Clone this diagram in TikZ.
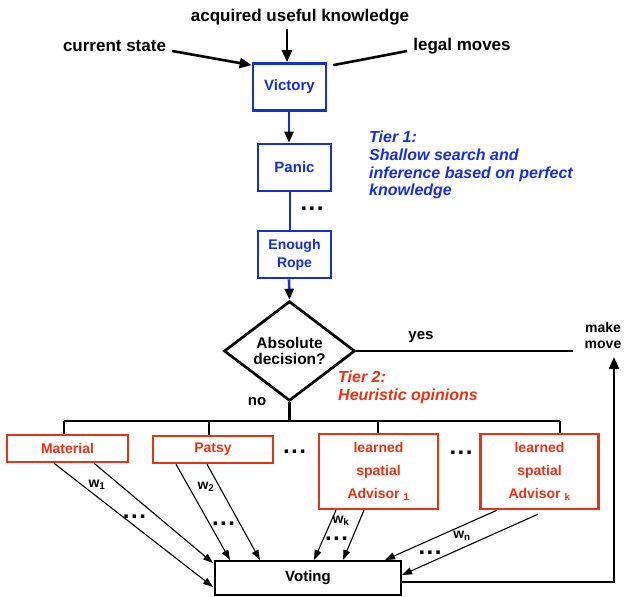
\documentclass[tikz,border=0pt]{standalone}
\usepackage{fontspec}
\setmainfont{Liberation Sans}
\usetikzlibrary{arrows.meta,shapes.geometric}
\definecolor{tblue}{RGB}{25,45,215}
\definecolor{tred}{RGB}{232,50,20}
\begin{document}
\begin{tikzpicture}[x=1pt,y=-1pt,
  lab/.style={inner sep=0pt, font=\fontsize{17}{19}\selectfont\bfseries},
  smalllab/.style={inner sep=0pt, font=\fontsize{15}{16}\selectfont\bfseries, align=center},
  bluebox/.style={draw=tblue, line width=2.7pt, text=tblue, minimum width=73pt, minimum height=47pt, inner sep=0pt, font=\fontsize{15}{18}\selectfont\bfseries, align=center},
  redbox/.style={draw=tred, line width=2.4pt, text=tred, inner sep=0pt, font=\fontsize{14}{23}\selectfont\bfseries, align=center},
  tierblue/.style={inner sep=0pt, text=tblue, font=\fontsize{16}{17.7}\selectfont\bfseries\itshape, align=left, anchor=north west},
  tierred/.style={inner sep=0pt, text=tred, font=\fontsize{16}{17.7}\selectfont\bfseries\itshape, align=left, anchor=north west},
  bigarrow/.style={line width=2.6pt, -{Triangle[length=12pt,width=10pt]}},
  bluearrow/.style={draw=tblue, line width=2.6pt, -{Triangle[length=11pt,width=9pt,black]}},
  blueline/.style={draw=tblue, line width=2.6pt},
  thinarrow/.style={line width=1.1pt, -{Triangle[length=10pt,width=7pt]}},
  busline/.style={line width=2.2pt},
  dotsmark/.style={inner sep=0pt, font=\fontsize{24}{24}\selectfont\bfseries},
  wlab/.style={inner sep=0pt, font=\fontsize{14}{14}\selectfont\bfseries}]
\fill[white] (0,0) rectangle (624,597);
\useasboundingbox (0,0) rectangle (624,597);

% top labels
\node[lab] (acq) at (300,17) {acquired useful knowledge};
\node[lab] (cs) at (114.5,46) {current state};
\node[lab] (lm) at (462,46) {legal moves};

% tier 1 boxes
\node[bluebox] (vic) at (289.5,87) {Victory};
\node[bluebox] (pan) at (294.5,167.5) {Panic};
\node[bluebox, font=\fontsize{14}{18}\selectfont\bfseries] (rope) at (294.5,254.5) {Enough\\Rope};

\draw[bigarrow] ([xshift=-13pt,yshift=-4pt]acq.south) -- ([xshift=-2.5pt]vic.north);
\draw[bigarrow] ([xshift=6pt,yshift=-5pt]cs.east) -- ([yshift=-3pt]vic.north west);
\draw[line width=2.6pt] ([xshift=6pt,yshift=-3pt]vic.north east) -- ([xshift=-6pt,yshift=-5pt]lm.west);

\draw[bluearrow] ([xshift=-0.5pt]vic.south) -- ([xshift=-0.5pt]vic.south |- pan.north);
\draw[blueline] ([xshift=-4.5pt]pan.south) -- ([xshift=-4.5pt]rope.north);
\node[dotsmark] (d0) at (312,209) {.\kern1.5pt.\kern1.5pt.};

\node[tierblue] (tier1) at (369,131) {Tier 1:\\Shallow search and\\inference based on perfect\\knowledge};

% decision
\node[diamond, draw, line width=2.7pt, minimum width=131pt, minimum height=87pt, inner sep=0pt, align=center, font=\fontsize{15.5}{16}\selectfont\bfseries] (dia) at (289.5,351) {Absolute\\decision?};
\draw[bluearrow] ([xshift=-5.5pt]rope.south) -- (dia.north);

\coordinate (yesend) at (573,351);
\draw[line width=2.4pt] (dia.east) -- (yesend);
\node[smalllab] (yes) at (421,337) {yes};
\node[smalllab, font=\fontsize{14}{16}\selectfont\bfseries] (mm) at (603,335) {make\\move};
\coordinate (mmtip) at (614,357);

\node[tierred] (tier2) at (338,371) {Tier 2:\\Heuristic opinions};
\node[smalllab] (no) at (257,402) {no};

% tier 2 boxes
\node[redbox, minimum width=121pt, minimum height=27pt] (mat) at (67.5,448.5) {Material};
\node[redbox, minimum width=120pt, minimum height=27pt] (pat) at (213,449.5) {Patsy};
\node[redbox, minimum width=119pt, minimum height=75pt] (l1) at (378.5,471.5) {learned\\spatial\\Advisor \textsubscript{1}};
\node[redbox, minimum width=118pt, minimum height=75pt] (lk) at (539.5,471.5) {learned\\spatial\\Advisor \textsubscript{k}};

\coordinate (b1) at (64,421);
\coordinate (b2) at (209,421);
\coordinate (b3) at (378,421);
\coordinate (b4) at (560,421);
\draw[busline] (dia.south) -- (dia.south |- b1);
\draw[busline] (b1) -- (b4);
\draw[busline] (b1) -- (b1 |- mat.north);
\draw[busline] (b2) -- (b2 |- pat.north);
\draw[busline] (b3) -- (b3 |- l1.north);
\draw[busline] (b4) -- (b4 |- lk.north);

\node[dotsmark] (d1) at (294.5,452) {.\kern1.5pt.\kern1.5pt.};
\node[dotsmark] (d2) at (461,453) {.\kern1.5pt.\kern1.5pt.};

% voting
\node[draw, line width=2pt, minimum width=186pt, minimum height=34pt, inner sep=0pt, font=\fontsize{15}{16}\selectfont\bfseries] (vote) at (308,578) {Voting};

\draw[thinarrow] ([xshift=-13.5pt]mat.south) -- ([xshift=-1pt,yshift=-9pt]vote.west);
\draw[thinarrow] ([xshift=26.5pt]mat.south) -- ([xshift=-1pt,yshift=-3pt]vote.north west);
\draw[thinarrow] ([xshift=-37pt]pat.south) -- ([xshift=-78pt]vote.north);
\draw[thinarrow] ([xshift=-6pt]pat.south) -- ([xshift=-48pt]vote.north);
\draw[thinarrow] ([xshift=-42.5pt]l1.south) -- ([xshift=6pt]vote.north);
\draw[thinarrow] ([xshift=-14.5pt]l1.south) -- ([xshift=35pt]vote.north);
\draw[thinarrow] ([xshift=-42.5pt]lk.south) -- ([xshift=77pt]vote.north);
\draw[thinarrow] ([xshift=-1.5pt,yshift=-4pt]lk.south) -- ([yshift=3pt]vote.east);

\node[wlab] (w1) at (97,485) {w\textsubscript{1}};
\node[wlab] (w2) at (206,487) {w\textsubscript{2}};
\node[wlab] (wk) at (341,521) {w\textsubscript{k}};
\node[wlab] (wn) at (462,536) {w\textsubscript{n}};

\node[dotsmark] (d3) at (134.5,517) {.\kern1.5pt.\kern1.5pt.};
\node[dotsmark] (d4) at (223.5,524) {.\kern1.5pt.\kern1.5pt.};
\node[dotsmark] (d5) at (336.5,539) {.\kern1.5pt.\kern1.5pt.};
\node[dotsmark] (d6) at (430,553) {.\kern1.5pt.\kern1.5pt.};

\draw[bigarrow, line width=2.4pt] ([yshift=-4pt]vote.east) -| (mmtip);
\end{tikzpicture}
\end{document}
